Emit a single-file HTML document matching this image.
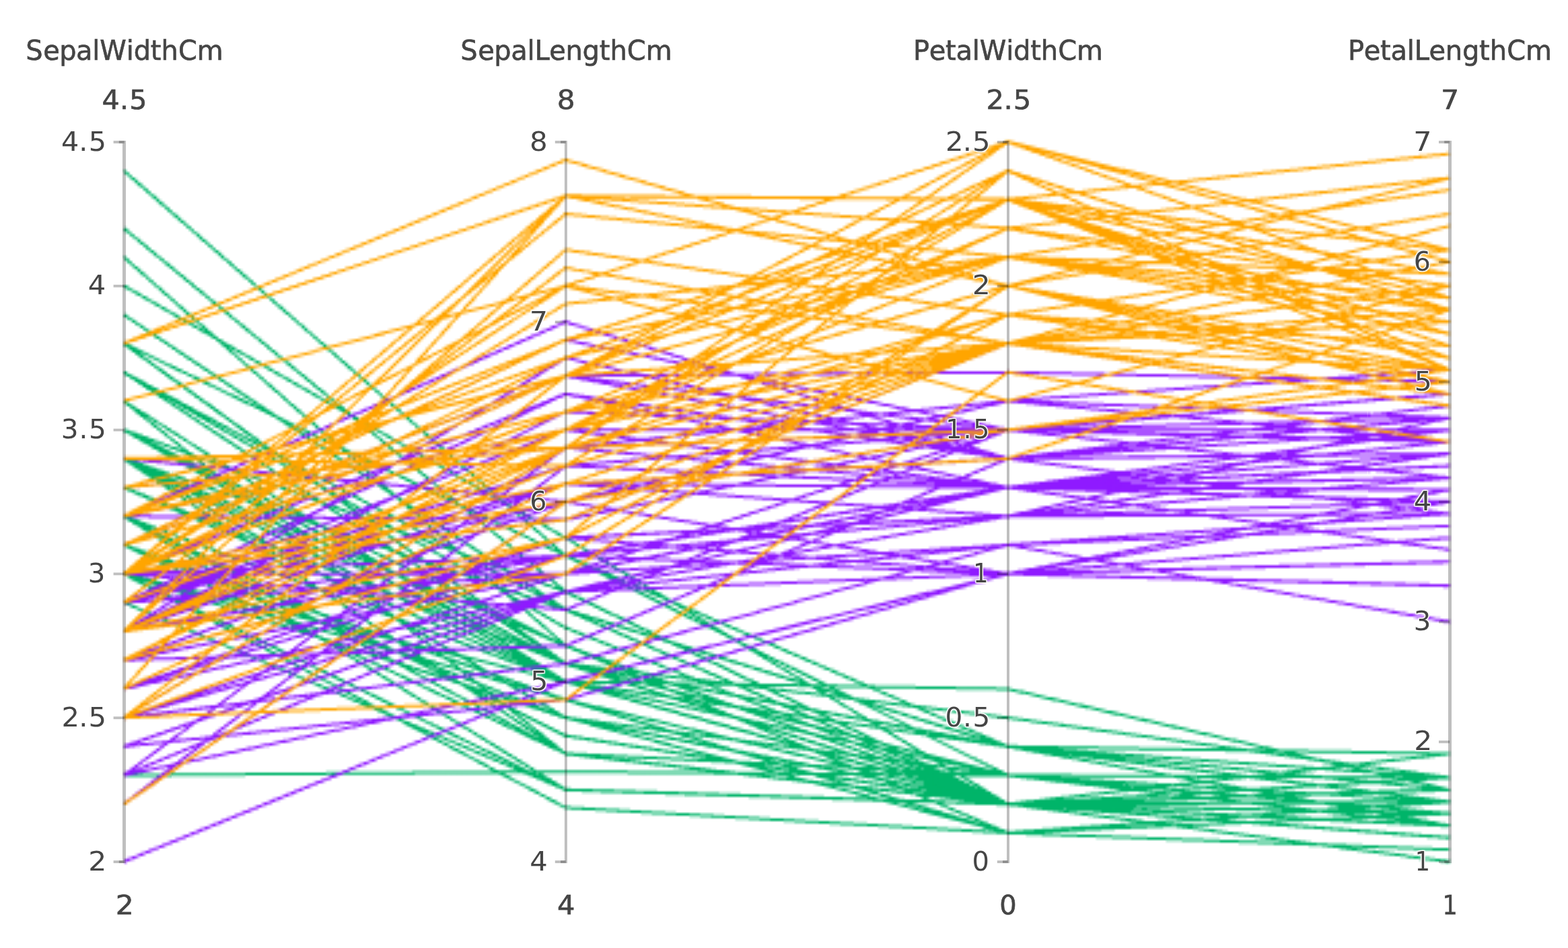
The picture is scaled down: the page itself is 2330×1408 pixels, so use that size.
<!DOCTYPE html>
<html lang="en">
<head>
<meta charset="utf-8">
<title>Iris parallel coordinates</title>
<style>
html,body{margin:0;padding:0;background:#fff;}
body{width:2330px;height:1408px;overflow:hidden;position:relative;}
svg{display:block;position:absolute;left:0;top:0;}
text{font-family:"DejaVu Sans","Liberation Sans",sans-serif;font-size:40px;fill:#444;stroke:#444;stroke-width:0.6px;paint-order:stroke fill;}
.lines polyline{fill:none;stroke-width:4;stroke-linejoin:round;stroke-linecap:butt;}
.g0 polyline{stroke:#00b469;}
.g1 polyline{stroke:#8f1aff;}
.g2 polyline{stroke:#ffa500;}
.axis path,.axis rect{fill:#000;fill-opacity:0.25;stroke:none;}
.tk{text-shadow:1px 1px 1px #fff,-1px -1px 1px #fff,1px -1px 1px #fff,-1px 1px 1px #fff;}
</style>
</head>
<body>
<svg xmlns="http://www.w3.org/2000/svg" width="2330" height="1408" viewBox="0 0 2330 1408">
<defs>
<filter id="gl" x="0" y="0" width="2332" height="1408" filterUnits="userSpaceOnUse" color-interpolation-filters="sRGB">
<feConvolveMatrix in="SourceGraphic" order="4 4" kernelMatrix="1 1 1 1 1 1 1 1 1 1 1 1 1 1 1 1" divisor="16" targetX="1" targetY="1" edgeMode="none" preserveAlpha="false" result="avg"/>
<feFlood x="2" y="1" width="1" height="1" flood-color="#000" flood-opacity="1" result="dot"/>
<feOffset in="dot" dx="0" dy="0" x="0" y="0" width="4" height="4" result="tile"/>
<feTile in="tile" result="grid"/>
<feComposite in="avg" in2="grid" operator="in" result="samp"/>
<feComponentTransfer in="samp" result="sq"><feFuncA type="discrete" tableValues="0 .25 .25 .5 .5 .75 .75 1"/></feComponentTransfer>
<feConvolveMatrix in="sq" order="7 1" kernelMatrix="1 2 3 4 3 2 1" divisor="4" targetX="3" targetY="0" edgeMode="none" preserveAlpha="false" result="h"/>
<feConvolveMatrix in="h" order="1 7" kernelMatrix="1 2 3 4 3 2 1" divisor="4" targetX="0" targetY="3" edgeMode="none" preserveAlpha="false" result="up"/>
</filter>
<filter id="sf" x="0" y="0" width="2330" height="1408" filterUnits="userSpaceOnUse"><feGaussianBlur stdDeviation="0.6"/></filter>
<clipPath id="cp"><rect x="182" y="0" width="1975" height="1408"/></clipPath>
</defs>
<rect width="2330" height="1408" fill="#fff"/>
<g clip-path="url(#cp)">
<g class="lines" filter="url(#gl)">
<g class="g0">
<polyline points="184.5,638.9 841,986.3 1498,1194.8 2154.5,1209"/>
<polyline points="184.5,852.7 841,1039.8 1498,1194.8 2154.5,1209"/>
<polyline points="184.5,767.2 841,1093.2 1498,1194.8 2154.5,1226.8"/>
<polyline points="184.5,809.9 841,1120 1498,1194.8 2154.5,1191.2"/>
<polyline points="184.5,596.1 841,1013 1498,1194.8 2154.5,1209"/>
<polyline points="184.5,467.9 841,906.1 1498,1109.3 2154.5,1155.6"/>
<polyline points="184.5,681.7 841,1120 1498,1152 2154.5,1209"/>
<polyline points="184.5,681.7 841,1013 1498,1194.8 2154.5,1191.2"/>
<polyline points="184.5,895.5 841,1173.4 1498,1194.8 2154.5,1209"/>
<polyline points="184.5,809.9 841,1039.8 1498,1237.5 2154.5,1191.2"/>
<polyline points="184.5,553.4 841,906.1 1498,1194.8 2154.5,1191.2"/>
<polyline points="184.5,681.7 841,1066.5 1498,1194.8 2154.5,1173.4"/>
<polyline points="184.5,852.7 841,1066.5 1498,1237.5 2154.5,1209"/>
<polyline points="184.5,852.7 841,1200.1 1498,1237.5 2154.5,1262.5"/>
<polyline points="184.5,425.1 841,799.2 1498,1194.8 2154.5,1244.7"/>
<polyline points="184.5,254.1 841,826 1498,1109.3 2154.5,1191.2"/>
<polyline points="184.5,467.9 841,906.1 1498,1109.3 2154.5,1226.8"/>
<polyline points="184.5,638.9 841,986.3 1498,1152 2154.5,1209"/>
<polyline points="184.5,510.6 841,826 1498,1152 2154.5,1155.6"/>
<polyline points="184.5,510.6 841,986.3 1498,1152 2154.5,1191.2"/>
<polyline points="184.5,681.7 841,906.1 1498,1194.8 2154.5,1155.6"/>
<polyline points="184.5,553.4 841,986.3 1498,1109.3 2154.5,1191.2"/>
<polyline points="184.5,596.1 841,1120 1498,1194.8 2154.5,1280.3"/>
<polyline points="184.5,724.4 841,986.3 1498,1066.5 2154.5,1155.6"/>
<polyline points="184.5,681.7 841,1066.5 1498,1194.8 2154.5,1120"/>
<polyline points="184.5,852.7 841,1013 1498,1194.8 2154.5,1173.4"/>
<polyline points="184.5,681.7 841,1013 1498,1109.3 2154.5,1173.4"/>
<polyline points="184.5,638.9 841,959.6 1498,1194.8 2154.5,1191.2"/>
<polyline points="184.5,681.7 841,959.6 1498,1194.8 2154.5,1209"/>
<polyline points="184.5,767.2 841,1093.2 1498,1194.8 2154.5,1173.4"/>
<polyline points="184.5,809.9 841,1066.5 1498,1194.8 2154.5,1173.4"/>
<polyline points="184.5,681.7 841,906.1 1498,1109.3 2154.5,1191.2"/>
<polyline points="184.5,382.3 841,959.6 1498,1237.5 2154.5,1191.2"/>
<polyline points="184.5,339.6 841,879.4 1498,1194.8 2154.5,1209"/>
<polyline points="184.5,809.9 841,1039.8 1498,1237.5 2154.5,1191.2"/>
<polyline points="184.5,767.2 841,1013 1498,1194.8 2154.5,1244.7"/>
<polyline points="184.5,638.9 841,879.4 1498,1194.8 2154.5,1226.8"/>
<polyline points="184.5,809.9 841,1039.8 1498,1237.5 2154.5,1191.2"/>
<polyline points="184.5,852.7 841,1173.4 1498,1194.8 2154.5,1226.8"/>
<polyline points="184.5,681.7 841,986.3 1498,1194.8 2154.5,1191.2"/>
<polyline points="184.5,638.9 841,1013 1498,1152 2154.5,1226.8"/>
<polyline points="184.5,1152 841,1146.7 1498,1152 2154.5,1226.8"/>
<polyline points="184.5,767.2 841,1173.4 1498,1194.8 2154.5,1226.8"/>
<polyline points="184.5,638.9 841,1013 1498,1023.7 2154.5,1173.4"/>
<polyline points="184.5,510.6 841,986.3 1498,1109.3 2154.5,1120"/>
<polyline points="184.5,852.7 841,1066.5 1498,1152 2154.5,1209"/>
<polyline points="184.5,510.6 841,986.3 1498,1194.8 2154.5,1173.4"/>
<polyline points="184.5,767.2 841,1120 1498,1194.8 2154.5,1209"/>
<polyline points="184.5,553.4 841,932.9 1498,1194.8 2154.5,1191.2"/>
<polyline points="184.5,724.4 841,1013 1498,1194.8 2154.5,1209"/>
</g>
<g class="g1">
<polyline points="184.5,767.2 841,478.6 1498,681.7 2154.5,621.1"/>
<polyline points="184.5,767.2 841,638.9 1498,638.9 2154.5,656.7"/>
<polyline points="184.5,809.9 841,505.3 1498,638.9 2154.5,585.4"/>
<polyline points="184.5,1152 841,879.4 1498,724.4 2154.5,745.8"/>
<polyline points="184.5,938.2 841,612.2 1498,638.9 2154.5,638.9"/>
<polyline points="184.5,938.2 841,826 1498,724.4 2154.5,656.7"/>
<polyline points="184.5,724.4 841,665.6 1498,596.1 2154.5,621.1"/>
<polyline points="184.5,1109.3 841,1039.8 1498,852.7 2154.5,870.5"/>
<polyline points="184.5,895.5 841,585.5 1498,724.4 2154.5,638.9"/>
<polyline points="184.5,981 841,959.6 1498,681.7 2154.5,763.6"/>
<polyline points="184.5,1280.3 841,1013 1498,852.7 2154.5,834.9"/>
<polyline points="184.5,852.7 841,772.5 1498,638.9 2154.5,710.2"/>
<polyline points="184.5,1194.8 841,745.8 1498,852.7 2154.5,745.8"/>
<polyline points="184.5,895.5 841,719.1 1498,681.7 2154.5,621.1"/>
<polyline points="184.5,895.5 841,852.7 1498,724.4 2154.5,817.1"/>
<polyline points="184.5,809.9 841,558.7 1498,681.7 2154.5,674.5"/>
<polyline points="184.5,852.7 841,852.7 1498,638.9 2154.5,656.7"/>
<polyline points="184.5,981 841,799.2 1498,852.7 2154.5,728"/>
<polyline points="184.5,1194.8 841,692.3 1498,638.9 2154.5,656.7"/>
<polyline points="184.5,1066.5 841,852.7 1498,809.9 2154.5,763.6"/>
<polyline points="184.5,767.2 841,772.5 1498,510.6 2154.5,603.3"/>
<polyline points="184.5,938.2 841,719.1 1498,724.4 2154.5,745.8"/>
<polyline points="184.5,1066.5 841,665.6 1498,638.9 2154.5,585.4"/>
<polyline points="184.5,938.2 841,719.1 1498,767.2 2154.5,621.1"/>
<polyline points="184.5,895.5 841,638.9 1498,724.4 2154.5,692.4"/>
<polyline points="184.5,852.7 841,585.5 1498,681.7 2154.5,674.5"/>
<polyline points="184.5,938.2 841,532 1498,681.7 2154.5,603.3"/>
<polyline points="184.5,852.7 841,558.7 1498,553.4 2154.5,567.6"/>
<polyline points="184.5,895.5 841,745.8 1498,638.9 2154.5,656.7"/>
<polyline points="184.5,1023.7 841,826 1498,852.7 2154.5,834.9"/>
<polyline points="184.5,1109.3 841,879.4 1498,809.9 2154.5,781.4"/>
<polyline points="184.5,1109.3 841,879.4 1498,852.7 2154.5,799.2"/>
<polyline points="184.5,981 841,799.2 1498,767.2 2154.5,763.6"/>
<polyline points="184.5,981 841,745.8 1498,596.1 2154.5,549.8"/>
<polyline points="184.5,852.7 841,906.1 1498,638.9 2154.5,656.7"/>
<polyline points="184.5,681.7 841,745.8 1498,596.1 2154.5,656.7"/>
<polyline points="184.5,809.9 841,558.7 1498,638.9 2154.5,621.1"/>
<polyline points="184.5,1152 841,665.6 1498,724.4 2154.5,674.5"/>
<polyline points="184.5,852.7 841,852.7 1498,724.4 2154.5,728"/>
<polyline points="184.5,1066.5 841,879.4 1498,724.4 2154.5,745.8"/>
<polyline points="184.5,1023.7 841,879.4 1498,767.2 2154.5,674.5"/>
<polyline points="184.5,852.7 841,719.1 1498,681.7 2154.5,638.9"/>
<polyline points="184.5,1023.7 841,799.2 1498,767.2 2154.5,745.8"/>
<polyline points="184.5,1152 841,1013 1498,852.7 2154.5,870.5"/>
<polyline points="184.5,981 841,852.7 1498,724.4 2154.5,710.2"/>
<polyline points="184.5,852.7 841,826 1498,767.2 2154.5,710.2"/>
<polyline points="184.5,895.5 841,826 1498,724.4 2154.5,710.2"/>
<polyline points="184.5,895.5 841,692.3 1498,724.4 2154.5,692.4"/>
<polyline points="184.5,1066.5 841,986.3 1498,809.9 2154.5,924"/>
<polyline points="184.5,938.2 841,826 1498,724.4 2154.5,728"/>
</g>
<g class="g2">
<polyline points="184.5,724.4 841,665.6 1498,211.3 2154.5,389.5"/>
<polyline points="184.5,981 841,799.2 1498,467.9 2154.5,549.8"/>
<polyline points="184.5,852.7 841,451.8 1498,382.3 2154.5,407.3"/>
<polyline points="184.5,895.5 841,665.6 1498,510.6 2154.5,460.7"/>
<polyline points="184.5,852.7 841,612.2 1498,339.6 2154.5,425.1"/>
<polyline points="184.5,852.7 841,318.2 1498,382.3 2154.5,282.6"/>
<polyline points="184.5,1066.5 841,1039.8 1498,553.4 2154.5,656.7"/>
<polyline points="184.5,895.5 841,398.4 1498,510.6 2154.5,336"/>
<polyline points="184.5,1066.5 841,558.7 1498,510.6 2154.5,425.1"/>
<polyline points="184.5,596.1 841,425.1 1498,211.3 2154.5,371.7"/>
<polyline points="184.5,767.2 841,612.2 1498,425.1 2154.5,549.8"/>
<polyline points="184.5,981 841,638.9 1498,467.9 2154.5,514.2"/>
<polyline points="184.5,852.7 841,532 1498,382.3 2154.5,478.6"/>
<polyline points="184.5,1066.5 841,826 1498,425.1 2154.5,567.6"/>
<polyline points="184.5,938.2 841,799.2 1498,254.1 2154.5,549.8"/>
<polyline points="184.5,767.2 841,638.9 1498,296.8 2154.5,514.2"/>
<polyline points="184.5,852.7 841,612.2 1498,510.6 2154.5,478.6"/>
<polyline points="184.5,510.6 841,291.5 1498,339.6 2154.5,264.7"/>
<polyline points="184.5,1023.7 841,291.5 1498,296.8 2154.5,229.1"/>
<polyline points="184.5,1194.8 841,745.8 1498,638.9 2154.5,567.6"/>
<polyline points="184.5,767.2 841,505.3 1498,296.8 2154.5,442.9"/>
<polyline points="184.5,938.2 841,852.7 1498,425.1 2154.5,585.4"/>
<polyline points="184.5,938.2 841,291.5 1498,425.1 2154.5,264.7"/>
<polyline points="184.5,981 841,665.6 1498,510.6 2154.5,585.4"/>
<polyline points="184.5,724.4 841,558.7 1498,382.3 2154.5,442.9"/>
<polyline points="184.5,767.2 841,425.1 1498,510.6 2154.5,389.5"/>
<polyline points="184.5,938.2 841,692.3 1498,510.6 2154.5,603.3"/>
<polyline points="184.5,852.7 841,719.1 1498,510.6 2154.5,585.4"/>
<polyline points="184.5,938.2 841,638.9 1498,382.3 2154.5,460.7"/>
<polyline points="184.5,852.7 841,425.1 1498,596.1 2154.5,425.1"/>
<polyline points="184.5,938.2 841,371.6 1498,467.9 2154.5,371.7"/>
<polyline points="184.5,510.6 841,238 1498,425.1 2154.5,318.2"/>
<polyline points="184.5,938.2 841,638.9 1498,339.6 2154.5,460.7"/>
<polyline points="184.5,938.2 841,665.6 1498,638.9 2154.5,549.8"/>
<polyline points="184.5,1023.7 841,719.1 1498,681.7 2154.5,460.7"/>
<polyline points="184.5,852.7 841,291.5 1498,296.8 2154.5,371.7"/>
<polyline points="184.5,681.7 841,665.6 1498,254.1 2154.5,460.7"/>
<polyline points="184.5,809.9 841,638.9 1498,510.6 2154.5,478.6"/>
<polyline points="184.5,852.7 841,745.8 1498,510.6 2154.5,603.3"/>
<polyline points="184.5,809.9 841,505.3 1498,382.3 2154.5,496.4"/>
<polyline points="184.5,809.9 841,558.7 1498,254.1 2154.5,460.7"/>
<polyline points="184.5,809.9 841,505.3 1498,296.8 2154.5,549.8"/>
<polyline points="184.5,981 841,799.2 1498,467.9 2154.5,549.8"/>
<polyline points="184.5,767.2 841,532 1498,296.8 2154.5,407.3"/>
<polyline points="184.5,724.4 841,558.7 1498,211.3 2154.5,442.9"/>
<polyline points="184.5,852.7 841,558.7 1498,296.8 2154.5,532"/>
<polyline points="184.5,1066.5 841,665.6 1498,467.9 2154.5,567.6"/>
<polyline points="184.5,852.7 841,612.2 1498,425.1 2154.5,532"/>
<polyline points="184.5,681.7 841,692.3 1498,296.8 2154.5,496.4"/>
<polyline points="184.5,852.7 841,772.5 1498,510.6 2154.5,549.8"/>
</g>
</g>
</g>
<g filter="url(#sf)">
<g class="axis">
<path d="M176.8,209.05H187V1281.95H176.8V1278.05H182V212.95H176.8Z"/>
<rect x="168.6" y="1278.05" width="16.2" height="3.9"/><text class="tk" transform="scale(1.064,0.98)" x="123.26" y="1318.98">2</text>
<rect x="168.6" y="1064.25" width="16.2" height="3.9"/><text class="tk" transform="scale(1.043,0.98)" x="87.67 112.47 126.09" y="1100.82">2.5</text>
<rect x="168.6" y="850.45" width="16.2" height="3.9"/><text class="tk" transform="scale(1.005,0.98)" x="130.2" y="882.65">3</text>
<rect x="168.6" y="636.65" width="16.2" height="3.9"/><text class="tk" transform="scale(1.014,0.98)" x="89.5 115.87 130.06" y="664.49">3.5</text>
<rect x="168.6" y="422.85" width="16.2" height="3.9"/><text class="tk" transform="scale(1.04,0.98)" x="125.72" y="446.33">4</text>
<rect x="168.6" y="209.05" width="16.2" height="3.9"/><text class="tk" transform="scale(1.031,0.98)" x="88.15 113.85 127.71" y="228.16">4.5</text>
<text class="ttl" x="38.25 64.23 88.21 113.12 137.32 148.37 187.85 198.66 223.86 239.56 264.89 292.79" y="89">SepalWidthCm</text>
<text class="rg" transform="scale(1.031,0.98)" x="147.03 172.73 186.59" y="165.31">4.5</text>
<text class="rg" transform="scale(1.064,0.98)" x="161.52" y="1385.51">2</text>
</g>
<g class="axis">
<path d="M833,209.05H842.9V1281.95H833V1278.05H838.9V212.95H833Z"/>
<rect x="824.8" y="1278.05" width="16.2" height="3.9"/><text class="tk" transform="scale(1.04,0.98)" x="756.97" y="1318.98">4</text>
<rect x="824.8" y="1010.8" width="16.2" height="3.9"/><text class="tk" transform="scale(1.023,0.98)" x="770.55" y="1046.28">5</text>
<rect x="824.8" y="743.55" width="16.2" height="3.9"/><text class="tk" transform="scale(0.99,0.98)" x="795.19" y="773.57">6</text>
<rect x="824.8" y="476.3" width="16.2" height="3.9"/><text class="tk" transform="scale(1.072,0.98)" x="734" y="500.87">7</text>
<rect x="824.8" y="209.05" width="16.2" height="3.9"/><text class="tk" transform="scale(1.05,0.98)" x="749.64" y="228.16">8</text>
<text class="ttl" x="684.31 710.29 734.27 759.18 783.38 794.42 816.3 840.5 865.6 890.79 906.5 931.83 959.73" y="89">SepalLengthCm</text>
<text class="rg" transform="scale(1.05,0.98)" x="788.42" y="165.31">8</text>
<text class="rg" transform="scale(1.04,0.98)" x="796.12" y="1385.51">4</text>
</g>
<g class="axis">
<path d="M1490,209.05H1500V1281.95H1490V1278.05H1496V212.95H1490Z"/>
<rect x="1481.8" y="1278.05" width="16.2" height="3.9"/><text class="tk" transform="scale(1,0.98)" x="1444.56" y="1318.98">0</text>
<rect x="1481.8" y="1064.25" width="16.2" height="3.9"/><text class="tk" transform="scale(1.011,0.98)" x="1389.16 1415.44 1429.7" y="1100.82">0.5</text>
<rect x="1481.8" y="850.45" width="16.2" height="3.9"/><text class="tk" transform="scale(0.875,0.98)" x="1652.86" y="882.65">1</text>
<rect x="1481.8" y="636.65" width="16.2" height="3.9"/><text class="tk" transform="scale(0.949,0.98)" x="1480.85 1508.33 1523.93" y="664.49">1.5</text>
<rect x="1481.8" y="422.85" width="16.2" height="3.9"/><text class="tk" transform="scale(1.064,0.98)" x="1357.75" y="446.33">2</text>
<rect x="1481.8" y="209.05" width="16.2" height="3.9"/><text class="tk" transform="scale(1.043,0.98)" x="1347.01 1371.82 1385.44" y="228.16">2.5</text>
<text class="ttl" x="1356.97 1380.7 1404.95 1420.43 1444.63 1455.68 1495.16 1505.97 1531.16 1546.87 1572.2 1600.1" y="89">PetalWidthCm</text>
<text class="rg" transform="scale(1.043,0.98)" x="1405.21 1430.02 1443.64" y="165.31">2.5</text>
<text class="rg" transform="scale(1,0.98)" x="1485.28" y="1385.51">0</text>
</g>
<g class="axis">
<path d="M2146.2,209.05H2157V1281.95H2146.2V1278.05H2152V212.95H2146.2Z"/>
<rect x="2138" y="1278.05" width="16.2" height="3.9"/><text class="tk" transform="scale(0.875,0.98)" x="2403.15" y="1318.98">1</text>
<rect x="2138" y="1099.88" width="16.2" height="3.9"/><text class="tk" transform="scale(1.064,0.98)" x="1974.76" y="1137.18">2</text>
<rect x="2138" y="921.72" width="16.2" height="3.9"/><text class="tk" transform="scale(1.005,0.98)" x="2090.4" y="955.37">3</text>
<rect x="2138" y="743.55" width="16.2" height="3.9"/><text class="tk" transform="scale(1.04,0.98)" x="2019.95" y="773.57">4</text>
<rect x="2138" y="565.38" width="16.2" height="3.9"/><text class="tk" transform="scale(1.023,0.98)" x="2054.52" y="591.77">5</text>
<rect x="2138" y="387.22" width="16.2" height="3.9"/><text class="tk" transform="scale(0.99,0.98)" x="2121.96" y="409.97">6</text>
<rect x="2138" y="209.05" width="16.2" height="3.9"/><text class="tk" transform="scale(1.072,0.98)" x="1959.28" y="228.16">7</text>
<text class="ttl" x="2003.03 2026.76 2051.01 2066.49 2090.69 2101.73 2123.61 2147.81 2172.91 2198.1 2213.81 2239.14 2267.04" y="89">PetalLengthCm</text>
<text class="rg" transform="scale(1.072,0.98)" x="1997.26" y="165.31">7</text>
<text class="rg" transform="scale(0.875,0.98)" x="2449.68" y="1385.51">1</text>
</g>
</g>
</svg>
</body>
</html>
